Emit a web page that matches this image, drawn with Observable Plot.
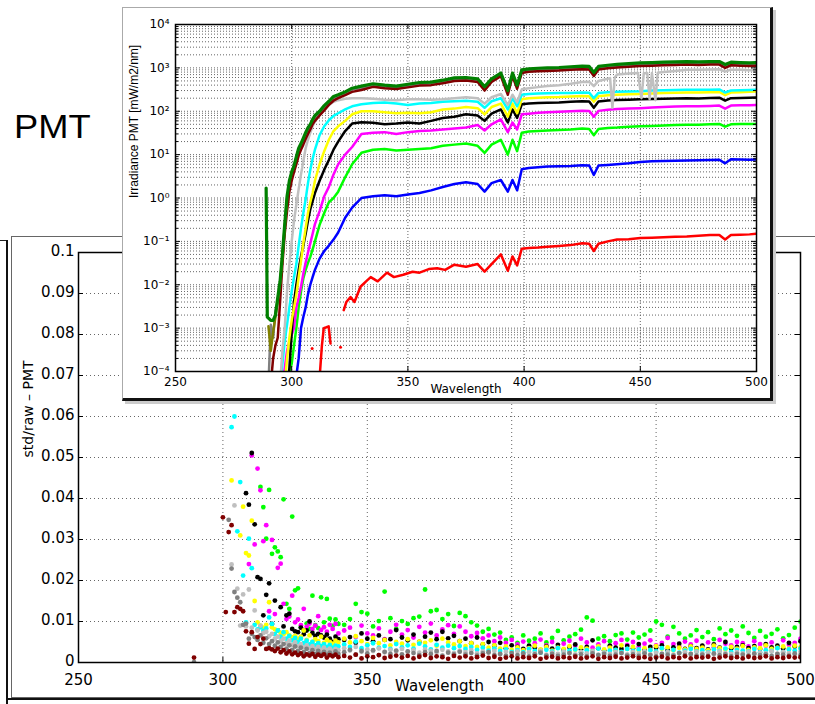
<!DOCTYPE html>
<html><head><meta charset="utf-8">
<script src="https://cdn.jsdelivr.net/npm/d3@7"></script>
<script src="https://cdn.jsdelivr.net/npm/@observablehq/plot@0.6"></script>
<style>
html,body{margin:0;padding:0;background:#fff;}
#page{position:relative;width:815px;height:704px;overflow:hidden;background:#fff;}
.abs{position:absolute;}
svg{max-width:none !important;}
</style></head><body><div id="page">
<div id="main" class="abs" style="left:0;top:0;width:815px;height:704px"></div>
<div class="abs" style="left:0;top:240px;width:7px;height:0;border-top:1px solid #222"></div>
<div class="abs" style="left:6px;top:240px;width:0;height:470px;border-left:2px solid #111"></div>
<div class="abs" style="left:11px;top:236px;width:830px;height:460px;border:1px solid #666"></div>
<div class="abs" style="left:6px;top:698px;width:830px;height:0;border-top:2px solid #111"></div>
<div class="abs" style="left:14px;top:110px;font-family:'Liberation Sans',Arial,sans-serif;font-size:33px;line-height:33px;transform:scaleX(1.1);transform-origin:0 0;color:#000">PMT</div>
<div id="inset" class="abs" style="left:122px;top:7px;width:647px;height:390px;background:#fff;border-left:1px solid #aaa;border-top:1px solid #aaa;border-right:3px solid #111;border-bottom:3px solid #111;box-shadow:3px 3px 0 #ccc"></div>
</div>
<script>
const _ = null;

// ================= INSET: Irradiance PMT [mW/m2/nm] vs wavelength =================
const insetWl = [289, 289.5, 290, 291, 292, 293, 294, 295, 296, 297, 298, 299, 300, 301, 302, 303, 304, 305, 306, 307, 308, 309, 310, 312, 314, 316, 318, 320, 323, 326, 330,
  335, 340, 345, 350, 355, 360, 365, 370, 375, 380, 383, 386, 390, 393, 395, 397, 399, 402, 406, 410, 415, 420, 425, 428, 430, 432, 436, 440, 445, 450, 455, 460, 465, 470, 475, 480, 484, 486.5, 489, 493, 497, 500];

const irrGreen = [1.7, 0.0018, 0.0017, 0.0015, 0.0015, 0.002, 0.005, 0.012, 0.05, 0.25, 1.1, 2.5, 4, 5.5, 9, 14, 18, 24, 32, 42, 50, 65, 80, 100, 135, 170, 220, 240, 280, 340, 380,
  430, 400, 380, 420, 460, 470, 520, 590, 600, 560, 370, 560, 760, 300, 760, 400, 900, 950, 980, 1000, 1020, 1060, 1100, 1080, 780, 1080, 1150, 1200, 1250, 1300, 1320, 1350, 1380, 1400, 1380, 1400, 1400, 1200, 1350, 1320, 1300, 1320];
const irrGray = [_, _, 5e-5, 0.0012, 0.0006, 0.0025, 0.004, 0.01, 0.04, 0.2, 0.9, 2.2, 4, 5.5, 8.5, 13, 16, 21, 29, 37, 44, 56, 70, 90, 122, 155, 195, 220, 260, 315, 345,
  400, 370, 350, 385, 425, 435, 480, 545, 555, 515, 340, 515, 700, 275, 700, 370, 830, 875, 900, 920, 940, 975, 1010, 995, 720, 995, 1060, 1100, 1150, 1200, 1215, 1240, 1270, 1290, 1270, 1290, 1290, 1100, 1240, 1215, 1200, 1215];
const irrMaroon = [_, _, _, 5e-5, 2e-4, 4e-4, 6e-4, 0.004, 0.03, 0.15, 0.5, 1.4, 2.5, 4, 6, 9.5, 13, 17, 23, 30, 38, 50, 60, 80, 105, 140, 175, 200, 235, 280, 310,
  365, 340, 325, 355, 390, 400, 440, 500, 510, 475, 300, 475, 645, 240, 645, 330, 765, 810, 835, 850, 865, 900, 935, 920, 650, 920, 980, 1020, 1060, 1100, 1120, 1150, 1170, 1190, 1170, 1190, 1190, 1000, 1150, 1120, 1100, 1120];
const irrCyan = [_, _, _, _, _, _, _, 5e-5, 1.5e-4, 5e-4, 0.0012, 0.003, 0.007, 0.015, 0.03, 0.08, 0.2, 0.45, 0.93, 2.2, 4.5, 8, 13, 28, 45, 62, 78, 90, 110, 130, 145,
  155, 160, 150, 140, 150, 155, 165, 170, 175, 165, 120, 170, 200, 110, 200, 130, 240, 250, 255, 260, 262, 265, 270, 268, 200, 265, 275, 280, 285, 290, 300, 305, 310, 315, 312, 315, 318, 270, 300, 305, 310, 315];
const irrYellow = [_, _, _, _, _, _, _, _, _, 5e-5, 2e-4, 6e-4, 0.0015, 0.003, 0.006, 0.015, 0.035, 0.09, 0.2, 0.45, 0.8, 1.3, 2.5, 6, 12, 22, 35, 45, 60, 85, 100,
  100, 95, 90, 92, 90, 95, 110, 115, 125, 118, 85, 125, 150, 75, 150, 90, 190, 200, 205, 210, 212, 218, 225, 222, 165, 222, 235, 240, 245, 250, 258, 262, 268, 272, 270, 275, 278, 235, 270, 275, 280, 285];
const irrBlack = [_, _, _, _, _, _, _, _, _, _, 4e-5, 1.2e-4, 0.0008, 0.004, 0.01, 0.022, 0.045, 0.08, 0.15, 0.3, 0.55, 0.85, 1.3, 2.5, 4.5, 7.5, 13, 20, 35, 52, 56,
  54, 50, 52, 55, 52, 60, 70, 75, 85, 80, 60, 88, 110, 55, 110, 70, 145, 150, 155, 158, 160, 165, 170, 168, 120, 168, 178, 182, 185, 188, 192, 195, 198, 200, 198, 202, 205, 175, 200, 203, 205, 207];
const irrMagenta = [_, _, _, _, _, _, _, _, 5e-5, 1.2e-4, 3e-4, 5e-4, 7e-4, 0.001, 0.003, 0.005, 0.009, 0.018, 0.032, 0.055, 0.09, 0.15, 0.25, 0.5, 1.1, 1.8, 3.5, 6, 10, 15, 30,
  32, 33, 30, 33, 35, 36, 38, 40, 42, 48, 36, 50, 65, 33, 55, 38, 85, 88, 92, 95, 98, 100, 103, 102, 75, 102, 108, 112, 115, 118, 122, 125, 128, 130, 130, 133, 135, 115, 135, 137, 138, 140];
const irrLime = [_, _, _, _, _, _, _, _, _, _, 5e-5, 1e-4, 1.5e-4, 4e-4, 0.001, 0.003, 0.007, 0.014, 0.022, 0.032, 0.044, 0.065, 0.1, 0.24, 0.45, 0.8, 1.0, 1.4, 3, 6, 11,
  13, 13.5, 12.5, 13, 13.5, 14, 16, 17, 18, 16, 11, 17, 22, 10, 22, 12, 32, 34, 35, 36, 37, 38, 40, 39, 28, 39, 41, 42, 44, 45, 46, 47, 48, 49, 49, 50, 51, 44, 50, 51, 51, 51];
const irrBlue = [_, _, _, _, _, _, _, _, _, _, _, _, _, 3e-5, 8e-5, 2e-4, 0.001, 0.0018, 0.003, 0.006, 0.01, 0.015, 0.022, 0.04, 0.06, 0.08, 0.11, 0.16, 0.35, 0.6, 1.0,
  1.1, 1.15, 1.1, 1.2, 1.3, 1.5, 1.8, 2.1, 2.3, 2.1, 1.4, 2.2, 2.6, 1.4, 2.6, 1.5, 4.6, 4.9, 5.1, 5.3, 5.4, 5.5, 5.7, 5.6, 3.4, 5.6, 5.8, 6.0, 6.3, 6.8, 7.0, 7.1, 7.2, 7.3, 7.4, 7.5, 7.6, 6.3, 7.8, 7.7, 7.6, 7.7];

const silverWl = [289, 289.5, 290, 291, 292, 293, 294, 295, 296, 297, 298, 299, 300, 301, 302, 303, 304, 305, 306, 307, 308, 309, 310, 312, 314, 316, 318, 320, 323, 326, 330,
  335, 340, 345, 350, 355, 360, 365, 370, 375, 380, 383, 386, 390, 393, 395, 397, 399, 402, 406, 410, 415, 420, 425, 428, 430, 432, 436, 437, 438, 439,
  440, 445, 449, 450.5, 451.5, 453, 454, 455, 456.5, 457.5, 460, 465, 470, 475, 480, 484, 486.5, 489, 493, 497, 500];
const irrSilver = [_, _, _, _, _, _, _, 5e-5, 3e-4, 0.001, 0.007, 0.03, 0.1, 0.3, 0.7, 1.6, 3.5, 7, 14, 22, 32, 45, 58, 85, 115, 140, 165, 180, 195, 200, 200,
  195, 185, 180, 190, 190, 185, 190, 200, 210, 200, 150, 210, 250, 140, 240, 160, 320, 340, 360, 380, 400, 430, 470, 480, 380, 500, 560, 580, 120, 600,
  700, 740, 760, 200, 750, 760, 190, 760, 180, 770, 800, 850, 900, 900, 920, 930, 820, 910, 900, 880, 900];

const oliveWl = [290, 291, 292, 293, 294, 295, 296, 297, 298];
const irrOlive = [0.0011, 0.0003, 0.0008, 0.0018, 0.0045, 0.011, 0.045, 0.22, 1.0];

const redWl = [311.8, 313, 313.8, 315, 315.9, 316.7, 319, 322.4, 323.5, 325.3, 327, 329.6, 332, 334, 337, 341, 344, 348, 352, 355,
  359, 362.6, 366, 370, 375, 380, 383, 386, 390, 393, 395, 397, 399, 402, 406, 410, 415, 420, 425, 428,
  430, 432, 436, 440, 445, 450, 455, 460, 465, 470, 475, 480, 484, 486.5, 489, 493, 497, 500];
const irrRed = [5e-5, 4e-4, 1e-3, 1.05e-3, 1.1e-3, 4.4e-4, _, 0.0026, 0.004, 0.0052, 0.004, 0.009, 0.012, 0.015, 0.012, 0.019, 0.015, 0.017, 0.02, 0.019,
  0.023, 0.024, 0.022, 0.029, 0.026, 0.03, 0.02, 0.03, 0.05, 0.021, 0.045, 0.028, 0.068, 0.07, 0.072, 0.075, 0.078, 0.082, 0.09, 0.088,
  0.06, 0.088, 0.1, 0.11, 0.112, 0.12, 0.122, 0.125, 0.128, 0.13, 0.135, 0.14, 0.14, 0.11, 0.14, 0.142, 0.145, 0.15];
const redDotWl = [308.8, 321];
const irrRedDot = [3.4e-4, 3.6e-4];

const insetXTicks = [250, 300, 350, 400, 450, 500];
const insetYMajor = [1e-4, 1e-3, 1e-2, 1e-1, 1, 10, 100, 1000, 10000];
const minorMult = [2, 3, 4, 5, 6, 7, 8, 9];

// ================= MAIN: std/raw - PMT vs wavelength =================
const stdWl = [290, ...d3.range(300, 341), ...d3.range(342, 501, 2)];

const stdLime = [_,
  _,_,_,_,_,_,_,_,_,_,
  _,_,_,0.0428,0.0379,0.0302,0.0421,0.0265,0.0281,0.0271,
  0.0257,0.0398,0.0143,0.0131,0.0356,0.0176,0.0181,0.0086,0.0078,0.0095,
  0.0082,0.0163,0.0091,0.0084,0.0159,0.0098,0.0155,0.0107,0.0089,0.0105,
  0.0094,
  0.0092,0.0106,0.0143,0.0123,0.0119,0.0088,0.0101,0.0173,0.0108,0.0082,
  0.0101,0.0094,0.0108,0.0112,0.0178,0.0125,0.0128,0.0106,0.0118,0.0089,
  0.0121,0.0113,0.0098,0.0090,0.0075,0.0082,0.0068,0.0073,0.0055,0.0061,
  0.0048,0.0066,0.0053,0.0058,0.0071,0.0049,0.0060,0.0077,0.0054,0.0063,
  0.0069,0.0080,0.0110,0.0102,0.0058,0.0064,0.0052,0.0067,0.0071,0.0056,
  0.0073,0.0061,0.0068,0.0078,0.0100,0.0092,0.0063,0.0087,0.0071,0.0058,
  0.0066,0.0079,0.0062,0.0074,0.0057,0.0083,0.0069,0.0078,0.0065,0.0088,
  0.0072,0.0060,0.0077,0.0063,0.0070,0.0081,0.0059,0.0067,0.0085,0.0100];
const stdMagenta = [_,
  _,_,_,_,_,_,_,_,_,0.0240,
  0.0505,0.0288,0.0473,0.0420,0.0296,0.0335,0.0125,0.0299,0.0118,0.0231,
  0.0241,0.0143,0.0106,0.0112,0.0163,0.0098,0.0105,0.0091,0.0131,0.0087,
  0.0095,0.0082,0.0090,0.0113,0.0079,0.0086,0.0075,0.0092,0.0082,0.0094,
  0.0071,
  0.0078,0.0085,0.0062,0.0090,0.0071,0.0066,0.0083,0.0057,0.0075,0.0092,
  0.0068,0.0079,0.0061,0.0087,0.0073,0.0095,0.0066,0.0081,0.0091,0.0070,
  0.0088,0.0075,0.0064,0.0072,0.0059,0.0066,0.0052,0.0061,0.0048,0.0055,
  0.0044,0.0051,0.0039,0.0047,0.0056,0.0042,0.0050,0.0038,0.0046,0.0053,
  0.0041,0.0058,0.0049,0.0036,0.0044,0.0052,0.0040,0.0047,0.0055,0.0043,
  0.0050,0.0038,0.0046,0.0054,0.0042,0.0048,0.0060,0.0045,0.0039,0.0051,
  0.0044,0.0053,0.0040,0.0049,0.0037,0.0055,0.0046,0.0042,0.0050,0.0047,
  0.0039,0.0052,0.0045,0.0041,0.0049,0.0036,0.0054,0.0043,0.0048,0.0058];
const stdBlack = [_,
  _,_,_,_,_,_,_,_,0.0413,0.0385,
  0.0511,0.0337,0.0208,0.0204,0.0115,0.0165,0.0193,0.0094,0.0151,0.0078,
  0.0135,0.0088,0.0115,0.0119,0.0082,0.0076,0.0074,0.0085,0.0069,0.0078,
  0.0100,0.0072,0.0065,0.0070,0.0066,0.0061,0.0068,0.0058,0.0050,0.0063,
  0.0057,
  0.0055,0.0062,0.0048,0.0071,0.0058,0.0052,0.0066,0.0055,0.0057,0.0079,
  0.0061,0.0054,0.0068,0.0050,0.0063,0.0073,0.0057,0.0075,0.0059,0.0065,
  0.0052,0.0058,0.0047,0.0061,0.0044,0.0050,0.0041,0.0048,0.0035,0.0042,
  0.0038,0.0033,0.0041,0.0036,0.0030,0.0039,0.0034,0.0043,0.0031,0.0037,
  0.0044,0.0032,0.0038,0.0054,0.0035,0.0029,0.0041,0.0036,0.0033,0.0040,
  0.0034,0.0045,0.0031,0.0038,0.0036,0.0042,0.0030,0.0037,0.0046,0.0033,
  0.0039,0.0035,0.0041,0.0032,0.0044,0.0036,0.0050,0.0034,0.0038,0.0042,
  0.0035,0.0040,0.0033,0.0045,0.0037,0.0041,0.0034,0.0048,0.0039,0.0052];
const stdYellow = [_,
  _,_,_,0.0444,_,_,0.0310,0.0380,0.0267,0.0261,
  0.0346,0.0150,0.0098,0.0090,0.0085,0.0092,0.0147,0.0086,0.0081,0.0078,
  0.0072,0.0069,0.0074,0.0066,0.0061,0.0065,0.0058,0.0063,0.0078,0.0055,
  0.0066,0.0050,0.0057,0.0052,0.0063,0.0048,0.0055,0.0050,0.0046,0.0053,
  0.0049,
  0.0058,0.0049,0.0064,0.0052,0.0045,0.0060,0.0047,0.0055,0.0042,0.0050,
  0.0046,0.0057,0.0043,0.0051,0.0048,0.0054,0.0041,0.0058,0.0049,0.0044,
  0.0052,0.0040,0.0047,0.0038,0.0045,0.0036,0.0042,0.0034,0.0039,0.0031,
  0.0037,0.0030,0.0035,0.0041,0.0032,0.0038,0.0029,0.0036,0.0033,0.0040,
  0.0031,0.0037,0.0034,0.0028,0.0039,0.0032,0.0036,0.0030,0.0042,0.0033,
  0.0038,0.0029,0.0035,0.0031,0.0040,0.0034,0.0037,0.0030,0.0036,0.0032,
  0.0039,0.0033,0.0036,0.0030,0.0041,0.0035,0.0032,0.0038,0.0034,0.0040,
  0.0031,0.0037,0.0035,0.0042,0.0033,0.0036,0.0039,0.0034,0.0041,0.0037];
const stdCyan = [_,
  _,_,_,0.0574,0.0600,0.0320,0.0440,0.0212,0.0098,0.0302,
  0.0230,0.0092,0.0081,0.0086,0.0077,0.0083,0.0110,0.0094,0.0069,0.0078,
  0.0063,0.0074,0.0058,0.0065,0.0054,0.0060,0.0050,0.0058,0.0047,0.0053,
  0.0044,0.0050,0.0042,0.0047,0.0040,0.0045,0.0038,0.0043,0.0036,0.0041,
  0.0039,
  0.0044,0.0038,0.0051,0.0035,0.0042,0.0047,0.0036,0.0040,0.0033,0.0045,
  0.0037,0.0042,0.0034,0.0046,0.0039,0.0032,0.0043,0.0036,0.0041,0.0035,
  0.0040,0.0033,0.0038,0.0031,0.0036,0.0029,0.0034,0.0028,0.0032,0.0026,
  0.0030,0.0025,0.0033,0.0028,0.0024,0.0031,0.0027,0.0035,0.0026,0.0029,
  0.0032,0.0025,0.0030,0.0027,0.0034,0.0024,0.0029,0.0031,0.0026,0.0033,
  0.0028,0.0032,0.0025,0.0030,0.0027,0.0035,0.0026,0.0031,0.0024,0.0029,
  0.0033,0.0027,0.0030,0.0025,0.0032,0.0028,0.0034,0.0026,0.0031,0.0029,
  0.0027,0.0033,0.0025,0.0030,0.0028,0.0035,0.0026,0.0032,0.0029,0.0034];
const stdSilver = [_,
  _,_,_,0.0239,0.0383,0.0180,0.0090,0.0166,0.0088,0.0178,
  0.0085,0.0127,0.0078,0.0090,0.0072,0.0075,0.0064,0.0070,0.0058,0.0063,
  0.0052,0.0058,0.0047,0.0053,0.0043,0.0049,0.0040,0.0045,0.0037,0.0042,
  0.0035,0.0040,0.0033,0.0038,0.0031,0.0036,0.0030,0.0034,0.0028,0.0033,
  0.0030,
  0.0035,0.0029,0.0038,0.0026,0.0032,0.0028,0.0034,0.0025,0.0031,0.0027,
  0.0033,0.0026,0.0030,0.0024,0.0032,0.0028,0.0025,0.0031,0.0027,0.0023,
  0.0029,0.0025,0.0030,0.0022,0.0027,0.0024,0.0028,0.0021,0.0026,0.0023,
  0.0027,0.0020,0.0025,0.0022,0.0028,0.0019,0.0024,0.0021,0.0026,0.0023,
  0.0020,0.0025,0.0022,0.0027,0.0019,0.0024,0.0021,0.0026,0.0023,0.0020,
  0.0025,0.0022,0.0027,0.0020,0.0024,0.0021,0.0026,0.0019,0.0023,0.0025,
  0.0021,0.0026,0.0022,0.0024,0.0020,0.0027,0.0023,0.0021,0.0025,0.0022,
  0.0026,0.0020,0.0024,0.0022,0.0027,0.0021,0.0025,0.0023,0.0020,0.0026];
const stdGray = [0.0001,
  _,_,0.0348,0.0229,0.0172,0.0158,0.0147,0.0092,0.0095,0.0058,
  0.0070,0.0062,0.0055,0.0066,0.0048,0.0059,0.0045,0.0052,0.0041,0.0049,
  0.0038,0.0045,0.0034,0.0042,0.0031,0.0039,0.0028,0.0036,0.0025,0.0033,
  0.0023,0.0030,0.0021,0.0028,0.0020,0.0026,0.0019,0.0024,0.0018,0.0027,
  0.0021,
  0.0025,0.0031,0.0019,0.0028,0.0022,0.0030,0.0018,0.0026,0.0021,0.0029,
  0.0020,0.0027,0.0023,0.0018,0.0025,0.0021,0.0028,0.0017,0.0024,0.0020,
  0.0026,0.0019,0.0023,0.0017,0.0022,0.0025,0.0018,0.0021,0.0016,0.0023,
  0.0018,0.0022,0.0015,0.0020,0.0024,0.0017,0.0021,0.0016,0.0019,0.0023,
  0.0017,0.0020,0.0015,0.0022,0.0018,0.0021,0.0016,0.0019,0.0023,0.0017,
  0.0020,0.0016,0.0022,0.0018,0.0015,0.0021,0.0019,0.0017,0.0023,0.0018,
  0.0021,0.0017,0.0019,0.0016,0.0022,0.0018,0.0020,0.0015,0.0021,0.0019,
  0.0017,0.0022,0.0018,0.0020,0.0016,0.0021,0.0019,0.0017,0.0022,0.0018];
const stdMaroon = [0.0012,
  0.0354,0.0123,0.0318,0.0335,0.0123,0.0135,0.0131,0.0125,0.0076,0.0046,
  0.0074,0.0033,0.0062,0.0045,0.0058,0.0033,0.0035,0.0032,0.0028,0.0034,
  0.0025,0.0030,0.0022,0.0027,0.0020,0.0024,0.0018,0.0022,0.0015,0.0020,
  0.0017,0.0021,0.0014,0.0019,0.0016,0.0020,0.0012,0.0018,0.0015,0.0019,
  0.0013,
  0.0016,0.0012,0.0019,0.0010,0.0015,0.0013,0.0018,0.0011,0.0014,0.0017,
  0.0012,0.0016,0.0010,0.0014,0.0018,0.0011,0.0015,0.0013,0.0009,0.0016,
  0.0012,0.0015,0.0010,0.0013,0.0017,0.0011,0.0014,0.0009,0.0012,0.0015,
  0.0010,0.0013,0.0011,0.0015,0.0009,0.0012,0.0014,0.0010,0.0013,0.0011,
  0.0014,0.0010,0.0012,0.0015,0.0009,0.0013,0.0011,0.0014,0.0010,0.0012,
  0.0015,0.0011,0.0013,0.0009,0.0012,0.0014,0.0010,0.0013,0.0011,0.0015,
  0.0010,0.0013,0.0012,0.0014,0.0009,0.0012,0.0015,0.0011,0.0013,0.0010,
  0.0014,0.0011,0.0012,0.0015,0.0010,0.0013,0.0011,0.0014,0.0012,0.0013];

const mainXTicks = [250, 300, 350, 400, 450, 500];
const mainYTicks = [0, 0.01, 0.02, 0.03, 0.04, 0.05, 0.06, 0.07, 0.08, 0.09, 0.1];

// ---------- helpers ----------
const rows = (wl, vals) => wl.map((w, i) => ({wl: w, v: vals[i] === undefined ? null : vals[i]}));
const SUP = {"-": "\u207B", "0": "\u2070", "1": "\u00B9", "2": "\u00B2", "3": "\u00B3", "4": "\u2074"};
const supFmt = d => "10" + String(Math.round(Math.log10(d))).split("").map(c => SUP[c]).join("");

// ---------- main plot ----------
const stdSeries = [
  [stdLime, "#00ff00"], [stdMagenta, "#ff00ff"], [stdBlack, "#000000"], [stdYellow, "#ffff00"],
  [stdCyan, "#00ffff"], [stdSilver, "#bfbfbf"], [stdGray, "#808080"], [stdMaroon, "#800000"]
];
const mainGridX = mainXTicks.slice(1, -1), mainGridY = mainYTicks.slice(1, -1);
const mainPlot = Plot.plot({
  width: 815, height: 704,
  marginLeft: 78, marginRight: 15, marginTop: 252, marginBottom: 42,
  style: {fontFamily: "'DejaVu Sans', sans-serif", fontSize: "15px", background: "transparent", color: "#000", overflow: "visible"},
  x: {domain: [250, 500]},
  y: {domain: [0, 0.1]},
  marks: [
    Plot.ruleX(mainGridX, {x: d => d, stroke: "#666", strokeDasharray: "1,3", strokeWidth: 1}),
    Plot.ruleY(mainGridY, {y: d => d, stroke: "#666", strokeDasharray: "1,3", strokeWidth: 1}),
    ...stdSeries.map(([vals, c]) => Plot.dot(rows(stdWl, vals), {x: "wl", y: "v", r: 2.4, fill: c, stroke: null, clip: true})),
    Plot.ruleX(mainXTicks, {x: d => d, y1: 0, y2: 0, insetBottom: 5, stroke: "#000"}),
    Plot.ruleX(mainXTicks, {x: d => d, y1: 0.1, y2: 0.1, insetBottom: -5, stroke: "#000"}),
    Plot.ruleY(mainYTicks, {y: d => d, x1: 250, x2: 250, insetRight: -5, stroke: "#000"}),
    Plot.ruleY(mainYTicks, {y: d => d, x1: 500, x2: 500, insetRight: 5, stroke: "#000"}),
    Plot.frame({stroke: "#000", strokeWidth: 1.5}),
    Plot.axisX({ticks: mainXTicks, tickSize: 0, tickPadding: 12, label: null, tickFormat: d => String(d)}),
    Plot.axisY({ticks: mainYTicks, tickSize: 0, tickPadding: 4, dy: -1, label: null, tickFormat: d => d === 0 ? "0" : String(+d.toFixed(2))}),
    Plot.text(["Wavelength"], {text: d => d, frameAnchor: "bottom", dy: 28}),
    Plot.text(["std/raw \u2013 PMT"], {text: d => d, frameAnchor: "left", dx: -50, rotate: -90, fontSize: 14})
  ]
});
document.getElementById("main").appendChild(mainPlot);

// ---------- inset plot ----------
const insetSeries = [
  [redWl, irrRed, "#ff0000", 2.5],
  [insetWl, irrBlue, "#0000ff", 2.5],
  [insetWl, irrLime, "#00ff00", 2.5],
  [insetWl, irrMagenta, "#ff00ff", 2.5],
  [insetWl, irrBlack, "#000000", 2.5],
  [insetWl, irrYellow, "#ffff00", 2.5],
  [insetWl, irrCyan, "#00ffff", 2.5],
  [silverWl, irrSilver, "#c0c0c0", 2.5],
  [insetWl, irrGray, "#808080", 2.5],
  [insetWl, irrMaroon, "#800000", 2.5],
  [oliveWl, irrOlive, "#808000", 2.5],
  [insetWl, irrGreen, "#008000", 3.2]
];
const insetYMinor = insetYMajor.slice(0, -1).flatMap(d => minorMult.map(m => m * d));
const insetGridX = insetXTicks.slice(1, -1);
const insetPlot = Plot.plot({
  width: 647, height: 390,
  marginLeft: 52, marginRight: 14, marginTop: 16, marginBottom: 27,
  style: {fontFamily: "'DejaVu Sans', sans-serif", fontSize: "12px", background: "transparent", color: "#000", overflow: "visible"},
  x: {domain: [250, 500]},
  y: {type: "log", domain: [1e-4, 1e4]},
  marks: [
    Plot.ruleY(insetYMinor, {y: d => d, stroke: "#555", strokeDasharray: "1,2", strokeWidth: 0.9}),
    Plot.ruleY(insetYMajor.slice(1, -1), {y: d => d, stroke: "#555", strokeDasharray: "1,2", strokeWidth: 0.9}),
    Plot.ruleX(insetGridX, {x: d => d, stroke: "#555", strokeDasharray: "1,2", strokeWidth: 0.9}),
    ...insetSeries.map(([wl, vals, c, w]) => Plot.line(rows(wl, vals), {x: "wl", y: "v", stroke: c, strokeWidth: w, clip: true})),
    Plot.dot(rows(redDotWl, irrRedDot), {x: "wl", y: "v", r: 1.5, fill: "#ff0000", stroke: null}),
    Plot.ruleX(insetXTicks, {x: d => d, y1: 1e-4, y2: 1e-4, insetBottom: 5, stroke: "#000"}),
    Plot.ruleX(insetXTicks, {x: d => d, y1: 1e4, y2: 1e4, insetBottom: -5, stroke: "#000"}),
    Plot.ruleY(insetYMajor, {y: d => d, x1: 250, x2: 250, insetRight: -5, stroke: "#000"}),
    Plot.ruleY(insetYMajor, {y: d => d, x1: 500, x2: 500, insetRight: 5, stroke: "#000"}),
    Plot.ruleY(insetYMinor, {y: d => d, x1: 250, x2: 250, insetRight: -3, stroke: "#000"}),
    Plot.ruleY(insetYMinor, {y: d => d, x1: 500, x2: 500, insetRight: 3, stroke: "#000"}),
    Plot.frame({stroke: "#000", strokeWidth: 1.5}),
    Plot.axisX({ticks: insetXTicks, tickSize: 0, tickPadding: 6, label: null, tickFormat: d => String(d)}),
    Plot.axisY({ticks: insetYMajor, tickSize: 0, tickPadding: 6, label: null, tickFormat: supFmt}),
    Plot.text(["Wavelength"], {text: d => d, frameAnchor: "bottom", dy: 21}),
    Plot.text(["Irradiance PMT [mW/m2/nm]"], {text: d => d, frameAnchor: "left", dx: -41, rotate: -90, fontFamily: "'Liberation Sans', Arial, sans-serif", fontSize: 12})
  ]
});
document.getElementById("inset").appendChild(insetPlot);
</script>
</body></html>
